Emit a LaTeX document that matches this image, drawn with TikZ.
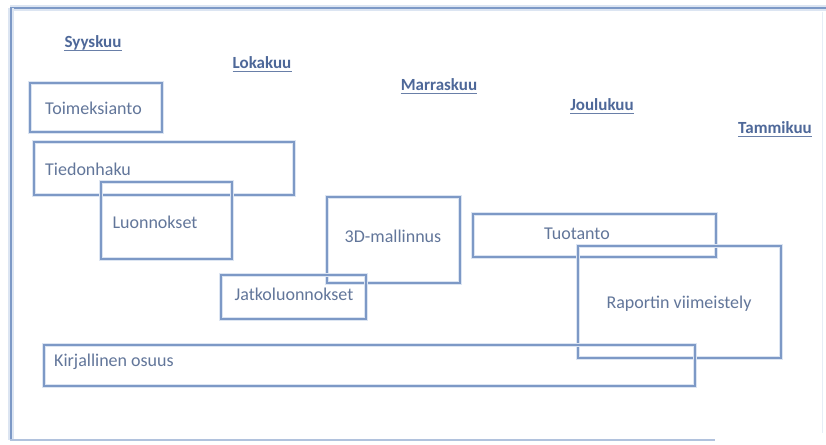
\documentclass[tikz,border=0pt]{standalone}
\usepackage{fontspec}
\setmainfont{Carlito}
\definecolor{boxc}{HTML}{7D99C6}
\definecolor{glowc}{HTML}{DCE5F2}
\definecolor{txtc}{HTML}{62769A}
\definecolor{monc}{HTML}{4E6899}
\begin{document}
\begin{tikzpicture}[x=1pt,y=-1pt,
  box/.style={draw=boxc, line width=1.1pt, preaction={draw=glowc, line width=4.5pt},
    rectangle, inner sep=0pt},
  lbl/.style={text=txtc, font=\fontsize{18}{21}\selectfont, inner sep=0pt},
  month/.style={text=monc, font=\fontsize{17}{20}\selectfont\bfseries, inner sep=0pt},
  uline/.style={draw=monc!85, line width=1.1pt},
  frame/.style={draw=boxc, line width=2.5pt, preaction={draw=glowc, line width=6pt}}]
\useasboundingbox (0,0) rectangle (826,444);
\fill[white] (0,0) rectangle (826,444);
% outer frame
\draw[frame] (10,8) -- (826,8);
\draw[frame] (11,8) -- (11,440);
\draw[draw=boxc!60, line width=1.2pt] (10,440) -- (715,440);
\draw[draw=glowc!70, line width=1pt] (822,12) -- (822,433);
% months
\node[month] (syys) at (93,43) {Syyskuu};
\node[month] (loka) at (262,63) {Lokakuu};
\node[month] (marras) at (439,85) {Marraskuu};
\node[month] (joulu) at (602,105) {Joulukuu};
\node[month] (tammi) at (775,128) {Tammikuu};
\foreach \m in {syys,loka,marras,joulu,tammi}
  \draw[uline] ([yshift=-2.6pt]\m.base west) -- ([yshift=-2.6pt]\m.base east);
% boxes
\node[box, minimum width=132pt, minimum height=49pt] (toim) at (96,107.5) {};
\node[lbl, anchor=west] (toimt) at (45,108) {Toimeksianto};
\node[box, minimum width=260pt, minimum height=53pt] (tied) at (164,168.5) {};
\node[lbl, anchor=west] (tiedt) at (45,169) {Tiedonhaku};
\node[box, minimum width=131pt, minimum height=77pt] (luon) at (166.5,220.5) {};
\node[lbl] (luont) at (155,222) {Luonnokset};
\node[box, minimum width=133pt, minimum height=86pt] (mall) at (393.5,240) {};
\node[lbl] (mallt) at (393,236) {3D-mallinnus};
\node[box, minimum width=145pt, minimum height=44pt] (jatko) at (293.5,297) {};
\node[lbl] (jatkot) at (294,294) {Jatkoluonnokset};
\node[box, minimum width=243pt, minimum height=43pt] (tuot) at (594.5,235.5) {};
\node[lbl] (tuott) at (577,234) {Tuotanto};
\node[box, minimum width=203pt, minimum height=112pt] (rap) at (679.5,302) {};
\node[lbl] (rapt) at (679,304) {Raportin viimeistely};
\node[box, minimum width=651pt, minimum height=41pt] (kirj) at (369.5,365.5) {};
\node[lbl, anchor=west] (kirjt) at (54,362) {Kirjallinen osuus};
\end{tikzpicture}
\end{document}
